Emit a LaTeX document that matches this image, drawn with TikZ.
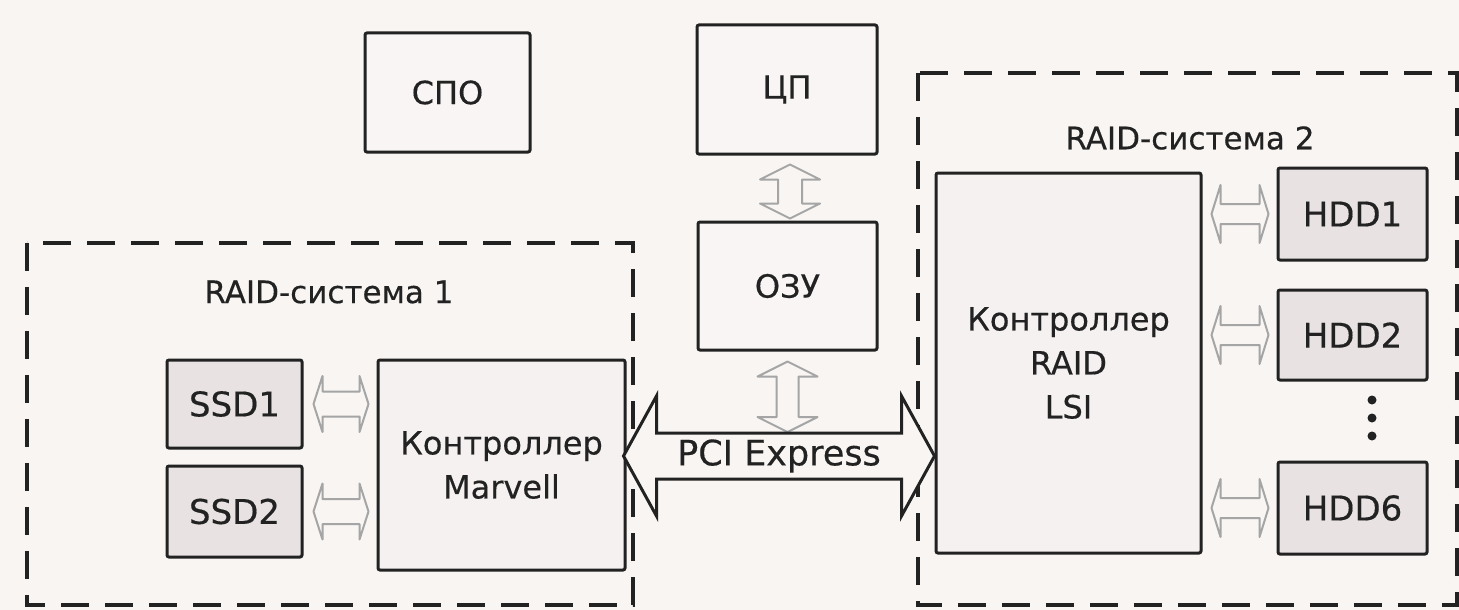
\documentclass[tikz,border=0pt]{standalone}
\usepackage{fontspec}
\setmainfont[FakeBold=0.4]{DejaVu Sans}
\usetikzlibrary{calc}
\definecolor{bg}{HTML}{F8F5F3}
\definecolor{ink}{HTML}{222222}
\definecolor{plainfill}{HTML}{F8F5F4}
\definecolor{ctrlfill}{HTML}{F5F1F0}
\definecolor{diskfill}{HTML}{E8E3E2}
\definecolor{arrowgray}{HTML}{A5A5A5}
\tikzset{
  blk/.style={draw=ink, line width=3pt, rounded corners=2pt, inner sep=0pt,
    align=center, font=\fontsize{32}{44}\selectfont, text=ink},
  plainbox/.style={blk, fill=plainfill},
  ctrl/.style={blk, fill=ctrlfill},
  disk/.style={blk, fill=diskfill, font=\fontsize{34}{40}\selectfont},
  region/.style={draw=ink, line width=4pt, dash pattern=on 28pt off 16pt},
  title/.style={font=\fontsize{31}{36}\selectfont, text=ink, inner sep=0pt},
  link/.style={draw=arrowgray, line width=2pt, line join=round, fill=bg},
  bus/.style={draw=ink, line width=3pt, line join=miter, fill=bg},
  dotnode/.style={circle, fill=ink, inner sep=0pt, minimum size=9pt},
}
% horizontal hollow double arrow: style, left point, right point, shaft half, head half, head length
\newcommand{\hdarrow}[6]{%
  \path[#1] let \p1=(#2), \p2=(#3) in
   (\x1,\y1) -- (\x1+#6pt,\y1+#5pt) -- (\x1+#6pt,\y1+#4pt) -- (\x2-#6pt,\y1+#4pt)
   -- (\x2-#6pt,\y1+#5pt) -- (\x2,\y1) -- (\x2-#6pt,\y1-#5pt) -- (\x2-#6pt,\y1-#4pt)
   -- (\x1+#6pt,\y1-#4pt) -- (\x1+#6pt,\y1-#5pt) -- cycle;}
% vertical hollow double arrow: style, top point, bottom point, shaft half, head half, head length
\newcommand{\vdarrow}[6]{%
  \path[#1] let \p1=(#2), \p2=(#3) in
   (\x1,\y1) -- (\x1+#5pt,\y1-#6pt) -- (\x1+#4pt,\y1-#6pt) -- (\x1+#4pt,\y2+#6pt)
   -- (\x1+#5pt,\y2+#6pt) -- (\x1,\y2) -- (\x1-#5pt,\y2+#6pt) -- (\x1-#4pt,\y2+#6pt)
   -- (\x1-#4pt,\y1-#6pt) -- (\x1-#5pt,\y1-#6pt) -- cycle;}
\begin{document}
\begin{tikzpicture}[x=1pt,y=-1pt]
\fill[bg] (0,0) rectangle (1459,610);
\useasboundingbox (0,0) rectangle (1459,610);

% dashed RAID regions
\draw[region] (27,243) rectangle (633,605);
\draw[region] (918,73) rectangle (1457,605);
\node[title] (t1) at (329,292) {RAID-система 1};
\node[title] (t2) at (1190,138) {RAID-система 2};

% top blocks
\node[plainbox, minimum width=165, minimum height=119] (spo) at (447.5,92.5) {СПО};
\node[plainbox, minimum width=180, minimum height=129] (cpu) at (787,89.5) {ЦП};
\node[plainbox, minimum width=179, minimum height=128] (ozu) at (787.5,286) {ОЗУ};

% RAID 1
\node[disk, minimum width=135, minimum height=88] (ssd1) at (234.5,404) {SSD1};
\node[disk, minimum width=135, minimum height=91] (ssd2) at (234.5,511.5) {SSD2};
\node[ctrl, minimum width=247, minimum height=210] (marvell) at (501.5,465) {Контроллер\\Marvell};

% RAID 2
\node[ctrl, minimum width=265, minimum height=380] (lsi) at (1068.5,363) {Контроллер\\RAID\\LSI};
\node[disk, minimum width=149, minimum height=92] (hdd1) at (1352.5,214) {HDD1};
\node[disk, minimum width=149, minimum height=90] (hdd2) at (1352.5,335) {HDD2};
\node[disk, minimum width=149, minimum height=92] (hdd6) at (1352.5,508) {HDD6};
\node[dotnode] (d1) at (1372,400) {};
\node[dotnode] (d2) at (1372,418) {};
\node[dotnode] (d3) at (1372,436) {};

% small gray links
\hdarrow{link}{$(ssd1.east)+(10,0)$}{$(marvell.west)+(-8,0)$}{12.5}{28}{9}
\hdarrow{link}{$(ssd2.east)+(10,0)$}{$(marvell.west)+(-8,0)$}{12.5}{28}{9}
\hdarrow{link}{$(lsi.east |- hdd1.west)+(9,0)$}{$(hdd1.west)+(-8,0)$}{10}{29}{9}
\hdarrow{link}{$(lsi.east |- hdd2.west)+(9,0)$}{$(hdd2.west)+(-8,0)$}{10}{29}{9}
\hdarrow{link}{$(lsi.east |- hdd6.west)+(9,0)$}{$(hdd6.west)+(-8,0)$}{10}{29}{9}
\vdarrow{link}{$(cpu.south)+(3,9)$}{$(ozu.north)+(0,-2)$}{12}{30}{15}

% PCI Express bus
\coordinate (pciL) at ($(marvell.east)+(-3,-9)$);
\coordinate (pciR) at ($(lsi.west)+(0,93)$);
\vdarrow{link}{$(ozu.south)+(0,10)$}{$(pciL)!0.5!(pciR)+(0,-24)$}{11}{30}{15}
\hdarrow{bus}{pciL}{pciR}{23}{60}{33}
\node[font=\fontsize{35}{40}\selectfont, text=ink, inner sep=0pt] (pci) at ($(pciL)!0.5!(pciR)+(0,0)$) {PCI Express};
\end{tikzpicture}
\end{document}
